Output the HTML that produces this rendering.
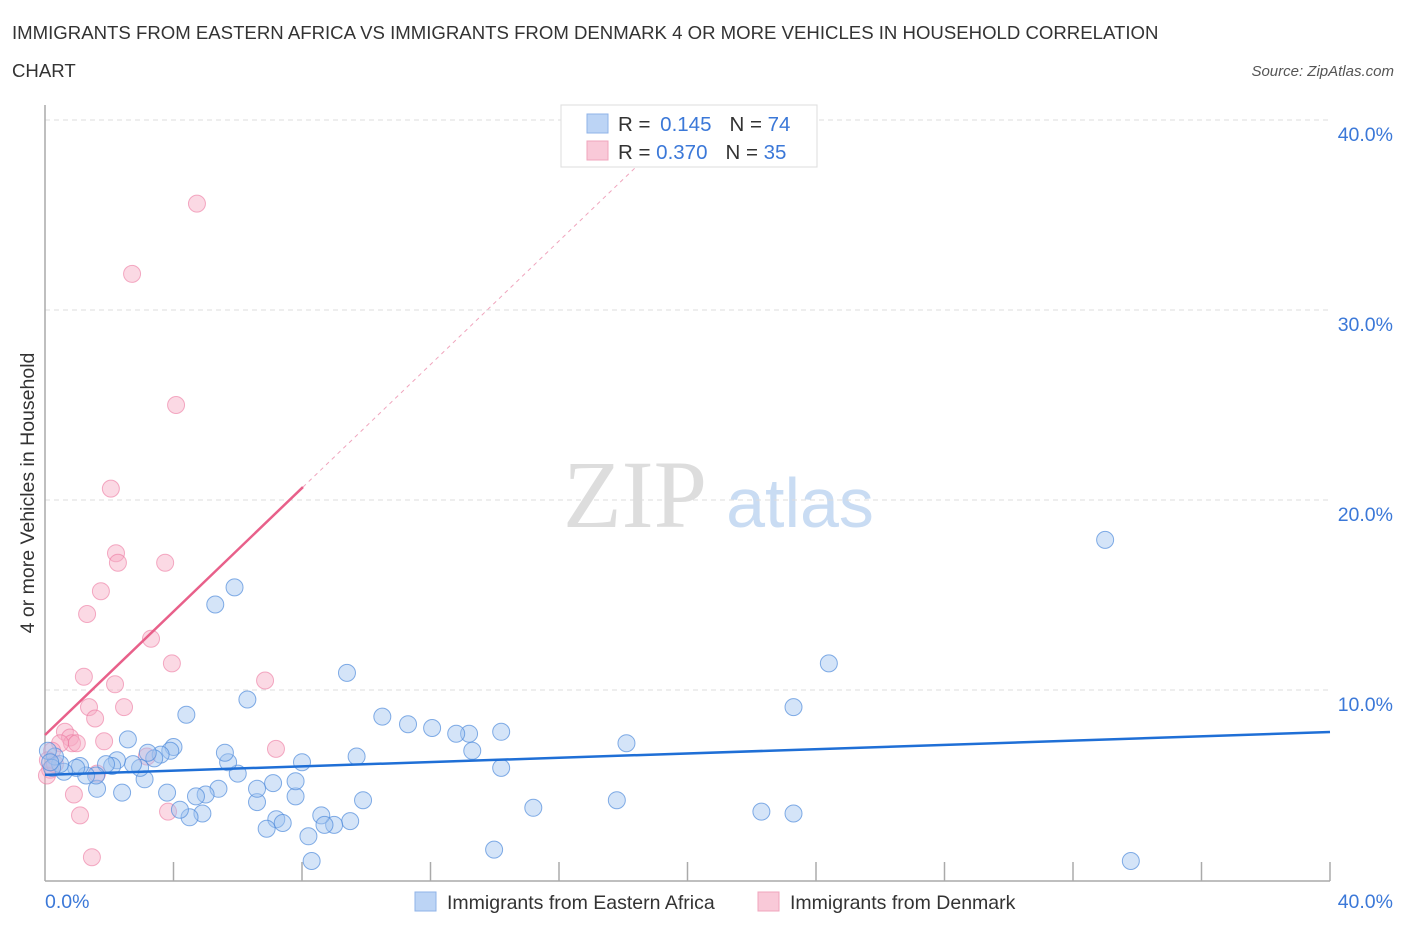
<!DOCTYPE html>
<html><head><meta charset="utf-8"><style>
body{margin:0;background:#fff;font-family:"Liberation Sans",sans-serif;}
</style></head><body>
<svg id="chart" width="1406" height="930" xmlns="http://www.w3.org/2000/svg" style="font-family:'Liberation Sans',sans-serif">
<text x="12" y="39" font-size="18.6" fill="#333">IMMIGRANTS FROM EASTERN AFRICA VS IMMIGRANTS FROM DENMARK 4 OR MORE VEHICLES IN HOUSEHOLD CORRELATION</text>
<text x="12" y="77" font-size="18.6" fill="#333">CHART</text>
<text x="1394" y="76" font-size="15" fill="#555" font-style="italic" text-anchor="end">Source: ZipAtlas.com</text>
<text x="635" y="527" font-size="96" fill="#ddd" font-family="Liberation Serif,serif" text-anchor="middle">ZIP</text>
<text x="800" y="527" font-size="70" fill="#c9dcf3" text-anchor="middle">atlas</text>
<text transform="translate(34,493) rotate(-90)" font-size="19.5" fill="#333" text-anchor="middle">4 or more Vehicles in Household</text>
<g id="grid"></g><g id="marks"></g>
<g>
<rect x="561" y="105" width="256" height="62" fill="#fff" stroke="#ddd"/>
<rect x="587" y="114" width="21" height="19" fill="#bcd4f5" stroke="#8fb3e8"/>
<rect x="587" y="141" width="21" height="19" fill="#f9c9d8" stroke="#f0a5bd"/>
<text x="618" y="131" font-size="20.5" fill="#333">R = <tspan fill="#3b78d8" dx="4">0.145</tspan><tspan dx="18">N = </tspan><tspan fill="#3b78d8">74</tspan></text>
<text x="618" y="159" font-size="20.5" fill="#333">R = <tspan fill="#3b78d8">0.370</tspan><tspan dx="18">N = </tspan><tspan fill="#3b78d8">35</tspan></text>
</g>
<g>
<rect x="415" y="892" width="21" height="19" fill="#bcd4f5" stroke="#8fb3e8"/>
<text x="447" y="909" font-size="19.5" fill="#333">Immigrants from Eastern Africa</text>
<rect x="758" y="892" width="21" height="19" fill="#f9c9d8" stroke="#f0a5bd"/>
<text x="790" y="909" font-size="19.5" fill="#333">Immigrants from Denmark</text>
</g>
</svg>
<script>
const yTicks=[10,20,30,40];
const xTicks=[0,4,8,12,16,20,24,28,32,36,40];
const blueX=[33.0,24.4,23.3,18.1,14.2,13.2,12.8,13.3,14.2,11.3,10.5,9.4,9.7,9.9,9.5,9.0,8.6,8.7,8.2,8.3,7.8,7.8,8.0,7.1,7.2,7.4,6.9,6.6,6.6,6.3,6.0,5.7,5.6,5.9,5.3,5.4,5.0,4.9,4.7,4.5,4.2,4.4,4.0,3.9,3.8,3.6,3.4,3.2,3.1,2.96,2.74,2.58,2.4,2.24,2.09,1.9,1.62,1.59,1.28,1.09,0.97,0.59,0.47,0.31,0.22,0.09,0.16,15.2,17.8,22.3,23.3,13.98,33.8,12.05];
const blueY=[17.9,11.4,9.1,7.2,7.8,7.7,7.7,6.8,5.9,8.2,8.6,10.9,6.5,4.2,3.1,2.9,3.4,2.9,2.3,1.0,4.4,5.2,6.2,5.1,3.2,3.0,2.7,4.1,4.8,9.5,5.6,6.2,6.7,15.4,14.5,4.8,4.5,3.5,4.4,3.3,3.7,8.7,7.0,6.8,4.6,6.6,6.4,6.7,5.3,5.9,6.1,7.4,4.6,6.3,6.0,6.1,4.8,5.5,5.5,6.0,5.9,5.7,6.1,6.5,5.9,6.8,6.2,3.8,4.2,3.6,3.5,1.6,1.0,8.0];
const pinkX=[4.73,2.71,4.08,2.05,2.21,2.27,3.74,1.74,1.31,3.3,3.95,1.21,6.85,2.18,1.37,2.46,1.56,0.62,0.78,0.84,1.84,0.99,7.19,3.17,0.47,0.22,0.09,0.16,0.06,1.62,0.9,3.83,1.09,1.46,0.31];
const pinkY=[35.6,31.9,25.0,20.6,17.2,16.7,16.7,15.2,14.0,12.7,11.4,10.7,10.5,10.3,9.1,9.1,8.5,7.8,7.5,7.2,7.3,7.2,6.9,6.5,7.2,6.8,6.3,5.8,5.5,5.6,4.5,3.6,3.4,1.2,6.1];
const blueTrend=[5.53,7.79];
const pinkTrend=[7.63,20.68,8.03];
const NS='http://www.w3.org/2000/svg';
const X=v=>45+v*32.125, Y=v=>880-v*19;
function mk(tag,attrs,parent){const e=document.createElementNS(NS,tag);for(const k in attrs)e.setAttribute(k,attrs[k]);parent.appendChild(e);return e;}
const grid=document.getElementById('grid'),marks=document.getElementById('marks');
for(const t of yTicks){
 const l=mk('line',{x1:45,x2:1330,y1:Y(t),y2:Y(t),stroke:'#ddd','stroke-dasharray':'5,4'},grid);
 
 
 const tx=mk('text',{x:1393,y:Y(t)+21,'font-size':19.5,fill:'#3b78d8','text-anchor':'end'},grid);tx.textContent=t.toFixed(1)+'%';
 
 
}
const ax=mk('line',{x1:45,x2:45,y1:105,y2:881,stroke:'#aaa','stroke-width':1.5},grid);


const bx=mk('line',{x1:45,x2:1330,y1:881,y2:881,stroke:'#aaa','stroke-width':1.5},grid);


for(const t of xTicks.slice(1)){
 const l=mk('line',{x1:X(t),x2:X(t),y1:862,y2:881,stroke:'#aaa','stroke-width':1.5},grid);
 
 
}
const xl0=mk('text',{x:45,y:908,'font-size':19.5,fill:'#3b78d8'},grid);xl0.textContent='0.0%';


const xl1=mk('text',{x:1393,y:908,'font-size':19.5,fill:'#3b78d8','text-anchor':'end'},grid);xl1.textContent='40.0%';


for(let i=0;i<pinkX.length;i++){
 const c=mk('circle',{cx:X(pinkX[i]),cy:Y(pinkY[i]),r:8.5,fill:'rgba(246,170,195,0.45)',stroke:'rgba(236,120,160,0.6)'},marks);
 
 
}
for(let i=0;i<blueX.length;i++){
 const c=mk('circle',{cx:X(blueX[i]),cy:Y(blueY[i]),r:8.5,fill:'rgba(160,196,240,0.45)',stroke:'rgba(80,140,220,0.7)'},marks);
 
 
}
const slope=(pinkTrend[1]-pinkTrend[0])/pinkTrend[2];
const xEnd=(40-pinkTrend[0])/slope;
const pd=mk('line',{x1:X(pinkTrend[2]),y1:Y(pinkTrend[1]),x2:X(xEnd),y2:Y(40),stroke:'#f0a5bd','stroke-dasharray':'4,4'},marks);


const pl=mk('line',{x1:X(0),y1:Y(pinkTrend[0]),x2:X(pinkTrend[2]),y2:Y(pinkTrend[1]),stroke:'#e8608a','stroke-width':2.5},marks);


const bl=mk('line',{x1:X(0),y1:Y(blueTrend[0]),x2:X(40),y2:Y(blueTrend[1]),stroke:'#1f6fd6','stroke-width':2.5},marks);


</script>
</body></html>
